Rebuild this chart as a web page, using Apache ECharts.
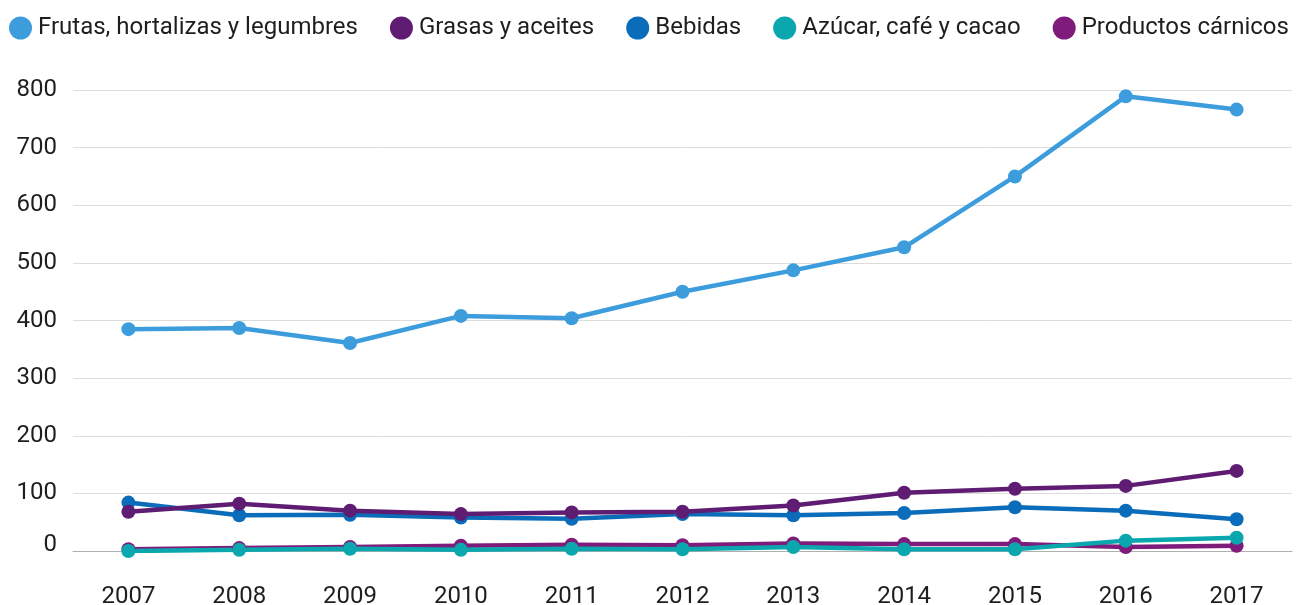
<!DOCTYPE html>
<html>
<head>
<meta charset="utf-8">
<script src="https://cdn.jsdelivr.net/npm/echarts@6/dist/echarts.min.js"></script>
<style>
html,body{margin:0;padding:0;background:#fff;}
#chart{width:1296px;height:605px;}
</style>
</head>
<body>
<div id="chart"></div>
<script>
var years = ['2007','2008','2009','2010','2011','2012','2013','2014','2015','2016','2017'];
var frutas = [385, 387, 361, 408, 404, 450, 487, 527, 650, 789, 766];
var grasas = [68, 82, 70, 64, 67, 68, 79, 101, 108, 113, 139];
var bebidas = [84, 62, 63, 58, 56, 64, 62, 66, 76, 70, 55];
var azucar = [0, 2, 4, 2, 4, 3, 7, 3, 3, 18, 23];
var carnicos = [3, 5, 7, 9, 11, 10, 13, 12, 12, 7, 9];
var seriesNames = ['Frutas, hortalizas y legumbres','Grasas y aceites','Bebidas','Azúcar, café y cacao','Productos cárnicos'];
var colors = {
  'Frutas, hortalizas y legumbres':'#3d9ddc',
  'Grasas y aceites':'#5f1c73',
  'Bebidas':'#0b6cb9',
  'Azúcar, café y cacao':'#0ba7ae',
  'Productos cárnicos':'#7e1b7b'
};
var FONT = 'Roboto';
function mk(name, data){
  return {
    name:name, type:'line', data:data,
    symbol:'circle', symbolSize:14,
    lineStyle:{width:4.5, color:colors[name]},
    itemStyle:{color:colors[name]},
    emphasis:{disabled:true},
    animation:false
  };
}
var chart = echarts.init(document.getElementById('chart'));
chart.setOption({
  animation:false,
  legend:{
    data:seriesNames.map(function(n){return {name:n, icon:'circle'};}),
    left:4, top:11,
    itemWidth:23, itemHeight:23, itemGap:32,
    textStyle:{fontFamily:FONT, fontSize:24, color:'#1e1e1e', padding:[0,0,0,1]}
  },
  grid:{left:73, right:4, top:90, bottom:54, containLabel:false, outerBoundsMode:'none'},
  xAxis:{
    type:'category', data:years, boundaryGap:true,
    axisLine:{show:true, lineStyle:{color:'#b0b0b0', width:1}},
    axisTick:{show:false},
    axisLabel:{fontFamily:FONT, fontSize:24, color:'#1e1e1e', margin:34}
  },
  yAxis:{
    type:'value', min:0, max:800, interval:100,
    axisLine:{show:false}, axisTick:{show:false},
    splitLine:{lineStyle:{color:'#dcdcdc', width:1}},
    axisLabel:{
      fontFamily:FONT, fontSize:24, color:'#1e1e1e', margin:16,
      formatter:function(v){ return v===0 ? '{z|0}' : String(v); },
      rich:{z:{fontFamily:FONT, fontSize:24, color:'#1e1e1e', padding:[0,0,12,0]}}
    }
  },
  series:[
    mk('Productos cárnicos', carnicos),
    mk('Azúcar, café y cacao', azucar),
    mk('Bebidas', bebidas),
    mk('Grasas y aceites', grasas),
    mk('Frutas, hortalizas y legumbres', frutas)
  ]
});
</script>
</body>
</html>
